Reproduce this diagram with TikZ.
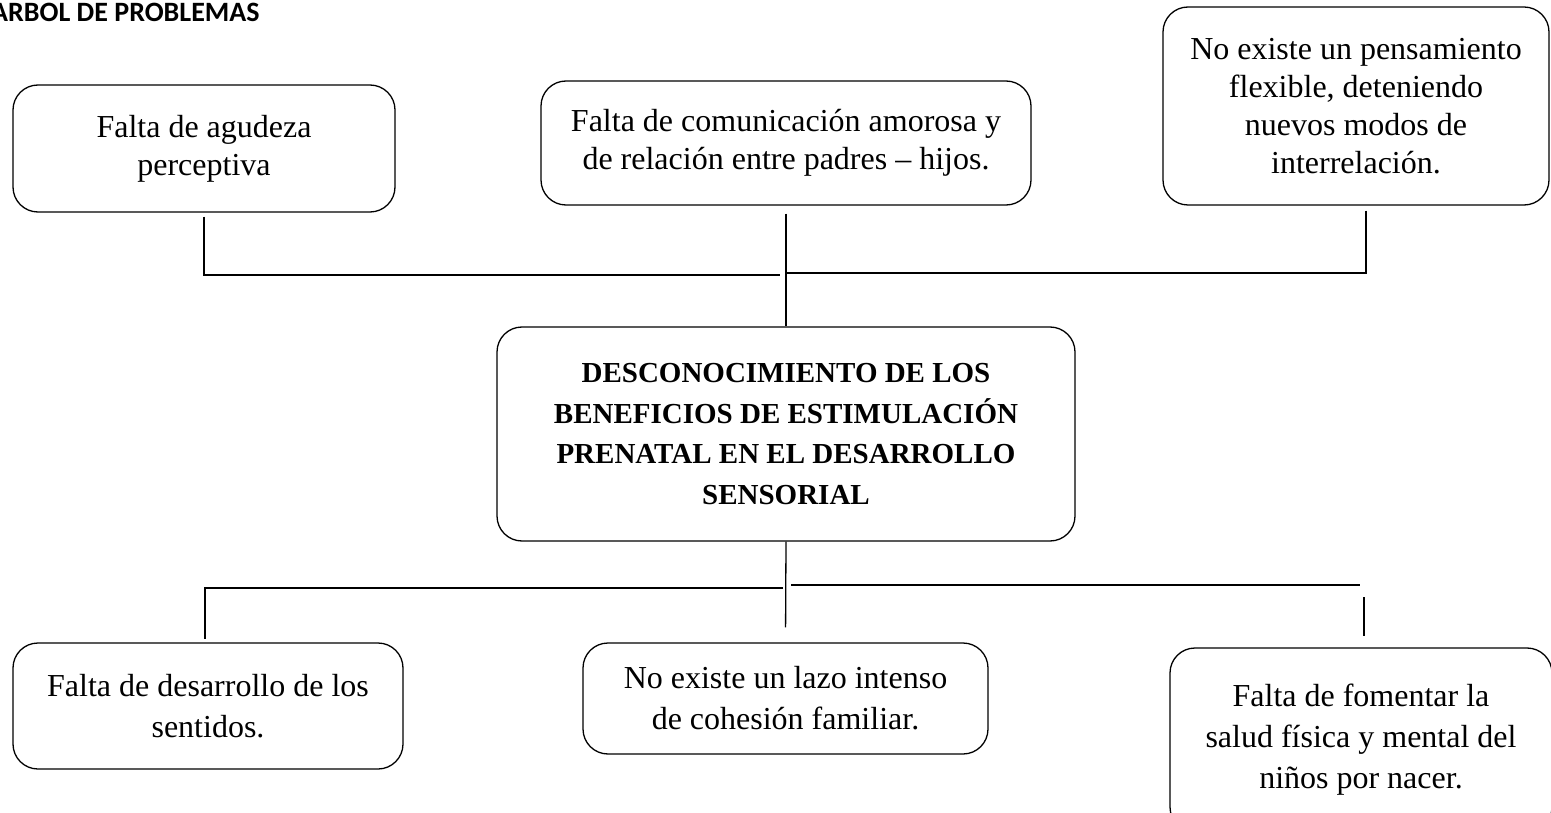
\documentclass[tikz,border=0pt]{standalone}
\usepackage{fontspec}
\setmainfont{Liberation Serif}
\newfontfamily\titlefont{Carlito}
\usepackage{tikz}
\usetikzlibrary{positioning}

\tikzset{
  problem/.style={draw, rounded corners=25pt, align=center, inner sep=0pt,
    line width=1.3pt, font=\fontsize{32}{38}\selectfont},
  lowbox/.style={problem, font=\fontsize{32}{41}\selectfont},
  link/.style={line width=1.3pt}
}

\begin{document}
\begin{tikzpicture}[x=1pt,y=-1pt]
  \useasboundingbox (0,0) rectangle (1551,813);
  \node[anchor=base west, inner sep=0pt, font=\titlefont\bfseries\fontsize{28}{30}\selectfont] (title) at (-9,22) {ARBOL DE PROBLEMAS};

  % causas
  \node[problem, minimum width=382pt, minimum height=127pt] (cA) at (204,148.5) {Falta de agudeza\\perceptiva};
  \node[problem, minimum width=490pt, minimum height=124pt] (cB) at (786,143) {Falta de comunicación amorosa y\\de relación entre padres -- hijos.};
  \node[problem, minimum width=386pt, minimum height=198pt] (cC) at (1356,106) {No existe un pensamiento\\flexible, deteniendo\\nuevos modos de\\interrelación.};

  % problema central
  \node[problem, minimum width=578pt, minimum height=214pt, font=\bfseries\fontsize{29}{40.5}\selectfont] (main) at (786,434) {DESCONOCIMIENTO DE LOS\\BENEFICIOS DE ESTIMULACIÓN\\PRENATAL EN EL DESARROLLO\\SENSORIAL};

  % efectos
  \node[lowbox, minimum width=390pt, minimum height=126pt] (eA) at (208,706) {Falta de desarrollo de los\\sentidos.};
  \node[lowbox, minimum width=405pt, minimum height=111pt] (eB) at (785.5,698.5) {No existe un lazo intenso\\de cohesión familiar.};
  \node[lowbox, minimum width=382pt, minimum height=184pt] (eC) at (1361,740) {Falta de fomentar la\\salud física y mental del\\niños por nacer.};

  \coordinate (tL) at (204,275);
  \coordinate (tM) at (780,275);
  \coordinate (tR) at (1366,273);
  \coordinate (bL) at (205,588);
  \coordinate (bM) at (783,588);
  \coordinate (bR1) at (791,585);
  \coordinate (bR2) at (1360,585);
  \coordinate (bR3) at (1364,597);

  \draw[link, shorten <=4pt] (cA.south) -- (tL) -- (tM);
  \draw[link, shorten <=8pt] (cB.south) -- (main.north);
  \draw[link, shorten <=5pt] (cC.south -| tR) -- (tR) -- (tR -| main.north);

  \draw[link, shorten >=15pt] (main.south) -- (eB.north);
  \draw[link, shorten >=3pt] (bM) -- (bL) -- (eA.north -| bL);
  \draw[link] (bR1) -- (bR2);
  \draw[link, shorten >=11pt] (bR3) -- (eC.north -| bR3);
\end{tikzpicture}
\end{document}
